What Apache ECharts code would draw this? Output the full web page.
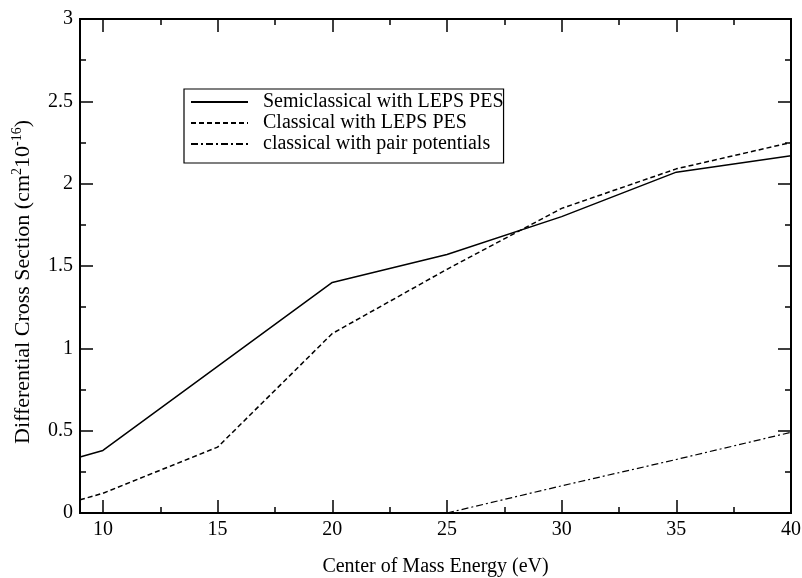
<!DOCTYPE html>
<html><head><meta charset="utf-8">
<script src="https://cdn.jsdelivr.net/npm/echarts@6/dist/echarts.min.js"></script>
<style>html,body{margin:0;padding:0;background:#fff}#c{width:802px;height:578px}</style>
</head><body><div id="c"></div>
<script>
const semiX = [9, 10, 15, 20, 25, 30, 35, 40];
const semiY = [0.34, 0.38, 0.89, 1.40, 1.57, 1.80, 2.07, 2.17];
const clasX = [9, 10, 15, 20, 25, 30, 35, 40];
const clasY = [0.08, 0.12, 0.40, 1.09, 1.48, 1.85, 2.09, 2.25];
const pairX = [25, 30, 35, 40];
const pairY = [0.0, 0.165, 0.325, 0.49];
const xMajor = [10, 15, 20, 25, 30, 35, 40];
const xMinor = [12.5, 17.5, 22.5, 27.5, 32.5, 37.5];
const seriesNames = ['Semiclassical with LEPS PES', 'Classical with LEPS PES', 'classical with pair potentials'];

const font = 'Liberation Serif';
const chart = echarts.init(document.getElementById('c'));
function zip(a, b) { return a.map((v, i) => [v, b[i]]); }
const baseX = {
  type: 'value', min: 9, max: 40, splitLine: { show: false },
  axisLine: { show: true, lineStyle: { color: '#000', width: 2 } }
};
function xAx(pos, vals, len, labels) {
  return Object.assign({}, baseX, {
    position: pos,
    axisTick: { show: true, inside: true, length: len, customValues: vals, lineStyle: { color: '#000', width: 1.5 } },
    axisLabel: labels ? { show: true, customValues: xMajor, color: '#000', fontFamily: font, fontSize: 20, margin: 7 } : { show: false }
  });
}
function yAx(pos, labels) {
  return {
    type: 'value', min: 0, max: 3, interval: 0.5, position: pos, splitLine: { show: false },
    axisLine: { show: true, lineStyle: { color: '#000', width: 2 } },
    axisTick: { show: true, inside: true, length: 13, lineStyle: { color: '#000', width: 1.5 } },
    minorTick: { show: true, splitNumber: 2, length: 6, lineStyle: { color: '#000', width: 1.5 } },
    axisLabel: labels ? { show: true, color: '#000', fontFamily: font, fontSize: 20, margin: 7, formatter: v => String(v) } : { show: false },
    name: labels ? '{a|Differential Cross Section (cm}{s|2}{a|10}{s|-16}{a|)}' : '',
    nameLocation: 'middle', nameGap: 44, nameRotate: 90,
    nameTextStyle: { padding: [0, 32, 0, 0], rich: { a: { fontFamily: font, fontSize: 22, color: '#000' }, s: { fontFamily: font, fontSize: 14, color: '#000', verticalAlign: 'top', padding: [0, 0, 12, 0] } } }
  };
}
const xAxes = [xAx('bottom', xMajor, 13, true), xAx('bottom', xMinor, 6, false), xAx('top', xMajor, 13, false), xAx('top', xMinor, 6, false)];
xAxes[0].name = 'Center of Mass Energy (eV)';
xAxes[0].nameLocation = 'middle';
xAxes[0].nameGap = 44;
xAxes[0].nameTextStyle = { fontFamily: font, fontSize: 20, color: '#000' };

chart.setOption({
  animation: false,
  backgroundColor: '#fff',
  grid: { left: 80, right: 11, top: 19, bottom: 65, containLabel: false, outerBoundsMode: 'none' },
  xAxis: xAxes,
  yAxis: [yAx('left', true), yAx('right', false)],
  legend: {
    orient: 'vertical', left: 184, top: 89, padding: [3, 0, 9, 6],
    borderColor: '#000', borderWidth: 1.2, itemGap: 1, itemWidth: 57, itemHeight: 14,
    itemStyle: { opacity: 0 },
    textStyle: { fontFamily: font, fontSize: 20, lineHeight: 20, color: '#000', padding: [0, 0, 0, 10] },
    data: seriesNames
  },
  series: [
    { name: seriesNames[0], type: 'line', data: zip(semiX, semiY), symbol: 'none', lineStyle: { color: '#000', width: 1.5, type: 'solid' }, itemStyle: { color: '#000' } },
    { name: seriesNames[1], type: 'line', data: zip(clasX, clasY), symbol: 'none', lineStyle: { color: '#000', width: 1.5, type: [5, 3] }, itemStyle: { color: '#000' } },
    { name: seriesNames[2], type: 'line', data: zip(pairX, pairY), symbol: 'none', lineStyle: { color: '#000', width: 1.2, type: [7, 3, 2, 3] }, itemStyle: { color: '#000' } }
  ]
});
</script></body></html>
